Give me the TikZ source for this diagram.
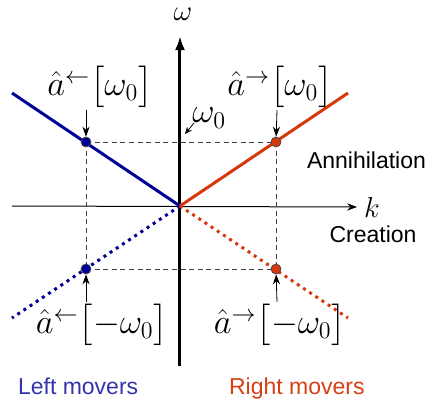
\documentclass[tikz,border=0pt]{standalone}
\usepackage{amsmath}
\usepackage{fontspec}
\setmainfont{Liberation Sans}
\usetikzlibrary{arrows.meta, positioning}
\definecolor{leftline}{RGB}{0,0,150}
\definecolor{rightline}{RGB}{214,56,12}
\definecolor{lefttext}{RGB}{52,52,168}
\definecolor{righttext}{RGB}{214,64,20}

\begin{document}
\begin{tikzpicture}[x=0.5pt, y=-0.5pt, >={Stealth[length=5pt, width=3.6pt]},
    every node/.style={font=\fontsize{11.5}{13}\selectfont},
    branch/.style={line width=1.5pt},
    ghost/.style={line width=1.5pt, dash pattern=on 1.5pt off 2.2pt},
    guide/.style={dash pattern=on 2.5pt off 1.8pt, line width=0.45pt, black!75},
    mode/.style={circle, draw=black!70, line width=0.4pt, inner sep=0pt, minimum size=5pt},
    op/.style={font=\LARGE, inner sep=1pt}]
    \useasboundingbox (0,0) rectangle (436,403);

    % axes
    \coordinate (O) at (180,206);
    \coordinate (kleft) at (12,206);
    \coordinate (wbot) at (180,366);
    \coordinate (wtop) at (180,36);
    \node[font=\Large] (k) at (372,207) {$k$};
    \node[font=\Large] (w) at (183,14) {$\omega$};
    \draw[->, line width=0.5pt] (kleft) -- (k.west);
    \draw[-{Latex[length=7pt, width=5pt]}, line width=1.5pt] (wbot) -- (wtop);

    % dispersion branches
    \coordinate (lu) at (12,93);
    \coordinate (ld) at (12,318);
    \coordinate (ru) at (348,93);
    \coordinate (rd) at (348,318);
    \draw[branch, leftline] (lu) -- (O);
    \draw[ghost, leftline] (O) -- (ld);
    \draw[branch, rightline] (O) -- (ru);
    \draw[ghost, rightline] (O) -- (rd);

    % modes at +/- omega_0
    \coordinate (lt) at (86,142);
    \coordinate (rt) at (276,142);
    \coordinate (lb) at (86,269);
    \coordinate (rb) at (276,269);
    \draw[guide] (lt) -- (rt);
    \draw[guide] (lb) -- (rb);
    \draw[guide] (lt) -- (lb);
    \draw[guide] (rt) -- (rb);
    \node[mode, fill=leftline] (ltm) at (lt) {};
    \node[mode, fill=rightline] (rtm) at (rt) {};
    \node[mode, fill=leftline] (lbm) at (lb) {};
    \node[mode, fill=rightline] (rbm) at (rb) {};

    % operator labels
    \node[op] (lta) at (100,87) {$\hat a^{\leftarrow}\bigl[\omega_0\bigr]$};
    \node[op] (rta) at (280,87) {$\hat a^{\rightarrow}\bigl[\omega_0\bigr]$};
    \node[op] (lba) at (102,325) {$\hat a^{\leftarrow}\bigl[-\omega_0\bigr]$};
    \node[op] (rba) at (280,325) {$\hat a^{\rightarrow}\bigl[-\omega_0\bigr]$};
    \coordinate (ltq) at (86,110);
    \coordinate (rtq) at (277,110);
    \coordinate (lbq) at (86,302);
    \coordinate (rbq) at (277,302);
    \draw[->] (ltq) -- (ltm);
    \draw[->] (rtq) -- (rtm);
    \draw[->] (lbq) -- (lbm);
    \draw[->] (rbq) -- (rbm);

    % omega_0 marker on the axis
    \node[font=\fontsize{17}{19}\selectfont, inner sep=0pt, anchor=west] (w0) at (192,118) {$\omega_0$};
    \coordinate (w0tip) at (185,134);
    \draw[->, >={Stealth[length=3.5pt, width=3pt]}] ([shift={(2,5)}]w0.west) -- (w0tip);

    % text labels
    \node[anchor=base east] (ann) at (433,168) {Annihilation};
    \node[anchor=base] (cre) at (373,242) {Creation};
    \node[anchor=base west, lefttext] (lm) at (11,394) {Left movers};
    \node[anchor=base west, righttext] (rm) at (222,394) {Right movers};
\end{tikzpicture}
\end{document}
